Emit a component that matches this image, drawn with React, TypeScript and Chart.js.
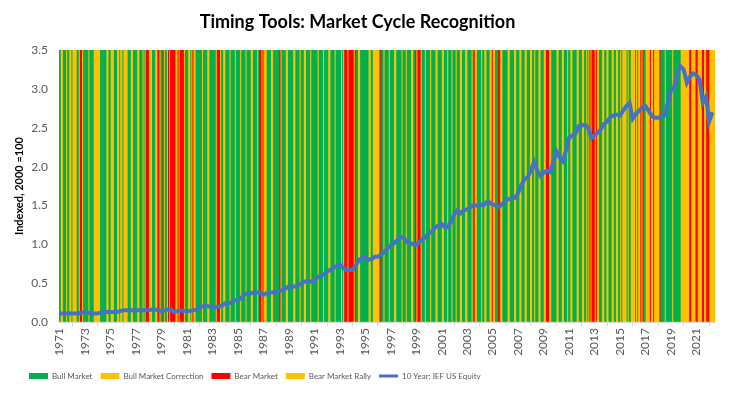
import { useEffect, useRef } from "react";
import { Chart, registerables } from "chart.js";

Chart.register(...registerables);

const START_YEAR = 1971;
const TITLE = "Timing Tools: Market Cycle Recognition";
const Y_TITLE = "Indexed, 2000 =100";
const LINE_NAME = "10 Year: IEF US Equity";
const LINE_COLOR = "#4472C4";
const SERIES_NAMES = ["Bull Market", "Bull Market Correction", "Bear Market", "Bear Market Rally"];
const SERIES_CODES = ["G", "C", "R", "Y"];
const SERIES_COLORS = ["#00B050", "#FFC000", "#FF0000", "#FFC000"];
const BAR_TOP = 3.5;
const Y_TICKS = [0, 0.5, 1.0, 1.5, 2.0, 2.5, 3.0, 3.5];

// Monthly regime per year: G bull, C bull correction, R bear, Y bear rally
const REGIME_BY_YEAR: string[] = [
  "GGCCGGGCGGCC", // 1971
  "GCCCCGGCRRYG", // 1972
  "GGGGCGGGGCCC", // 1973
  "CCCGGGGGGCCG", // 1974
  "GCCCGGGCCGCC", // 1975
  "GCCCCGGGCCGG", // 1976
  "GGCCGGGCGCRR", // 1977
  "RYCCGGGCYRRY", // 1978
  "GGRYGGCRYRRR", // 1979
  "RRYCRYRRRRYG", // 1980
  "GGCCGYRCCGGG", // 1981
  "GGGCGGGGCCGG", // 1982
  "GGGGCRRRYGGC", // 1983
  "CGGGGCGGGGCG", // 1984
  "GGGCGGGGCGGG", // 1985
  "GCCGGGGCGRRY", // 1986
  "RYYCGGGGCCGG", // 1987
  "GGGGRYGGGGCC", // 1988
  "GGGGGCCGGGGC", // 1989
  "GGGCCGGGGCGG", // 1990
  "GGGGCGGGGCGG", // 1991
  "GGCCGGGGCGGG", // 1992
  "GGCGCRRRYRRR", // 1993
  "RRYRGGCCGGGG", // 1994
  "GGGGCCGGCCCC", // 1995
  "CCGRGGCGGGGC", // 1996
  "GGGGCCGGGGGC", // 1997
  "GGGCGGGGCCGG", // 1998
  "RYRRRYGGGCGG", // 1999
  "GGCGGGGCCGGG", // 2000
  "GCCGGGCGGGCG", // 2001
  "GGCGGGCCGGGC", // 2002
  "CGGGGCGRCCGG", // 2003
  "GGCGGCCGGGCC", // 2004
  "RCCGGGRRYCGG", // 2005
  "GGGCCGGGGCCG", // 2006
  "GGCCGGGCCGGG", // 2007
  "CCGGCGGGCCGG", // 2008
  "GCCRRRYCGGGG", // 2009
  "GCCGGGCCGGGC", // 2010
  "GGCCGGGGCCGG", // 2011
  "GCCGGCGCRYRR", // 2012
  "RYRCCGGGCCGG", // 2013
  "CCGGGCCGGCCG", // 2014
  "GCGCCCCGCGGC", // 2015
  "CCCGCGCCRYRG", // 2016
  "GCCCCRYCRYCC", // 2017
  "CCRGGGGCGGGG", // 2018
  "GGCGGGGGGGCC", // 2019
  "CCCCCCRRYYYY", // 2020
  "RRYYYYRRYYRR", // 2021
  "RYYYYY", // 2022
];

// Quarterly index level (start of each quarter)
const INDEX_QUARTERLY: number[] = [
  0.11, 0.11, 0.11, 0.11, // 1971
  0.11, 0.11, 0.11, 0.12, // 1972
  0.13, 0.12, 0.11, 0.11, // 1973
  0.11, 0.12, 0.13, 0.13, // 1974
  0.13, 0.13, 0.13, 0.14, // 1975
  0.15, 0.15, 0.15, 0.15, // 1976
  0.15, 0.15, 0.15, 0.15, // 1977
  0.15, 0.16, 0.16, 0.15, // 1978
  0.14, 0.15, 0.16, 0.16, // 1979
  0.13, 0.14, 0.15, 0.14, // 1980
  0.14, 0.14, 0.15, 0.16, // 1981
  0.20, 0.20, 0.21, 0.20, // 1982
  0.20, 0.19, 0.20, 0.21, // 1983
  0.24, 0.24, 0.25, 0.28, // 1984
  0.28, 0.31, 0.35, 0.37, // 1985
  0.37, 0.38, 0.38, 0.38, // 1986
  0.35, 0.37, 0.38, 0.38, // 1987
  0.39, 0.40, 0.41, 0.43, // 1988
  0.46, 0.45, 0.46, 0.47, // 1989
  0.50, 0.52, 0.52, 0.52, // 1990
  0.53, 0.58, 0.59, 0.61, // 1991
  0.65, 0.67, 0.70, 0.72, // 1992
  0.74, 0.70, 0.67, 0.67, // 1993
  0.67, 0.72, 0.80, 0.82, // 1994
  0.84, 0.80, 0.81, 0.84, // 1995
  0.84, 0.87, 0.90, 0.95, // 1996
  0.99, 1.01, 1.05, 1.09, // 1997
  1.09, 1.03, 1.02, 1.00, // 1998
  0.99, 1.03, 1.06, 1.10, // 1999
  1.14, 1.17, 1.22, 1.24, // 2000
  1.26, 1.22, 1.22, 1.30, // 2001
  1.39, 1.44, 1.40, 1.44, // 2002
  1.45, 1.48, 1.50, 1.50, // 2003
  1.52, 1.50, 1.54, 1.54, // 2004
  1.51, 1.50, 1.48, 1.52, // 2005
  1.56, 1.58, 1.60, 1.60, // 2006
  1.66, 1.76, 1.84, 1.86, // 2007
  1.95, 2.06, 1.95, 1.88, // 2008
  1.92, 1.95, 1.93, 2.05, // 2009
  2.20, 2.12, 2.07, 2.20, // 2010
  2.37, 2.40, 2.42, 2.52, // 2011
  2.53, 2.54, 2.50, 2.37, // 2012
  2.40, 2.44, 2.48, 2.55, // 2013
  2.58, 2.64, 2.66, 2.67, // 2014
  2.66, 2.72, 2.78, 2.82, // 2015
  2.62, 2.68, 2.72, 2.76, // 2016
  2.78, 2.72, 2.65, 2.63, // 2017
  2.63, 2.65, 2.66, 2.82, // 2018
  2.98, 3.02, 3.22, 3.29, // 2019
  3.25, 3.08, 3.16, 3.20, // 2020
  3.18, 3.12, 2.82, 2.90, // 2021
  2.58, 2.70, // 2022
];

const FONT = "Lato, 'Open Sans', sans-serif";

export default function App() {
  const canvasRef = useRef<HTMLCanvasElement | null>(null);

  useEffect(() => {
    document.body.style.margin = "0";
    let chart: Chart | null = null;
    let cancelled = false;

    const regimes = REGIME_BY_YEAR.join("").split("");
    const labels = regimes.map((_, i) => `${START_YEAR + Math.floor(i / 12)}-${(i % 12) + 1}`);
    const lineData = regimes.map((_, i) =>
      i % 3 === 0 && INDEX_QUARTERLY[i / 3] !== undefined ? INDEX_QUARTERLY[i / 3] : null
    );
    const barColors = regimes.map((r) => SERIES_COLORS[SERIES_CODES.indexOf(r)]);

    const legendShift = {
      id: "legendShift",
      afterLayout(c: any) {
        const lg = c.legend;
        if (lg) {
          const dx = 21 - lg.left;
          lg.left += dx;
          lg.right += dx;
        }
      },
    };

    const create = () => {
      if (cancelled || !canvasRef.current) return;
      chart = new Chart(canvasRef.current, {
        data: {
          labels,
          datasets: [
            {
              type: "bar" as const,
              label: "Market regime",
              data: regimes.map(() => BAR_TOP),
              backgroundColor: barColors,
              borderWidth: 0,
              barPercentage: 1,
              categoryPercentage: 1,
              inflateAmount: 0.35,
              order: 2,
            },
            {
              type: "line" as const,
              label: LINE_NAME,
              data: lineData,
              borderColor: LINE_COLOR,
              backgroundColor: LINE_COLOR,
              borderWidth: 4,
              pointRadius: 0,
              tension: 0,
              spanGaps: true,
              order: 1,
            },
          ] as any,
        },
        options: {
          responsive: false,
          animation: false,
          devicePixelRatio: 1,
          layout: { padding: { left: 0, right: 31, top: 0, bottom: 6 } },
          plugins: {
            title: {
              display: true,
              text: TITLE,
              color: "#000000",
              font: { family: FONT, size: 18, weight: "bold" },
              padding: { top: 11, bottom: 17.5 },
            },
            legend: {
              position: "bottom",
              align: "start",
              labels: {
                usePointStyle: true,
                pointStyleWidth: 19,
                boxHeight: 6,
                padding: 8,
                color: "#595959",
                font: { family: FONT, size: 8 },
                generateLabels: () => [
                  ...SERIES_NAMES.map((name, k) => ({
                    text: name,
                    fillStyle: SERIES_COLORS[k],
                    strokeStyle: SERIES_COLORS[k],
                    lineWidth: 0,
                    pointStyle: "rect",
                    fontColor: "#595959",
                    hidden: false,
                    datasetIndex: 0,
                  })),
                  {
                    text: LINE_NAME,
                    fillStyle: LINE_COLOR,
                    strokeStyle: LINE_COLOR,
                    lineWidth: 3,
                    pointStyle: "line",
                    fontColor: "#595959",
                    hidden: false,
                    datasetIndex: 1,
                  },
                ],
              },
            },
            tooltip: { enabled: false },
          },
          scales: {
            x: {
              type: "category",
              offset: true,
              grid: {
                display: true,
                drawOnChartArea: false,
                drawTicks: true,
                tickLength: 4,
                color: "#D9D9D9",
                offset: true,
              },
              border: { display: true, color: "#D9D9D9" },
              ticks: {
                autoSkip: false,
                maxRotation: 90,
                minRotation: 90,
                padding: 2,
                color: "#595959",
                font: { family: FONT, size: 12 },
                callback: (_v: any, idx: number) =>
                  idx % 24 === 0 ? String(START_YEAR + idx / 12) : null,
              },
              afterFit: (s: any) => {
                s.height = 42;
              },
            },
            y: {
              min: 0,
              max: BAR_TOP,
              afterBuildTicks: (s: any) => {
                s.ticks = Y_TICKS.map((v) => ({ value: v }));
              },
              grid: { display: true, color: "#D9D9D9", drawTicks: false },
              border: { display: false },
              ticks: {
                padding: 11,
                color: "#595959",
                font: { family: FONT, size: 12 },
                callback: (v: any) => Number(v).toFixed(1),
              },
              title: {
                display: true,
                text: Y_TITLE,
                color: "#000000",
                font: { family: FONT, size: 11, weight: "bold" },
                padding: { top: 13, bottom: 0 },
              },
              afterFit: (s: any) => {
                s.width = 59;
              },
            },
          },
        } as any,
        plugins: [legendShift],
      });
    };

    const fontsReady = (document as any).fonts
      ? Promise.all([
          (document as any).fonts.load(`12px Lato`),
          (document as any).fonts.load(`bold 18px Lato`),
        ]).catch(() => null)
      : Promise.resolve(null);
    fontsReady.then(create);

    return () => {
      cancelled = true;
      if (chart) chart.destroy();
    };
  }, []);

  return (
    <div style={{ width: 746, height: 396, background: "#ffffff" }}>
      <canvas ref={canvasRef} width={746} height={396} />
    </div>
  );
}
